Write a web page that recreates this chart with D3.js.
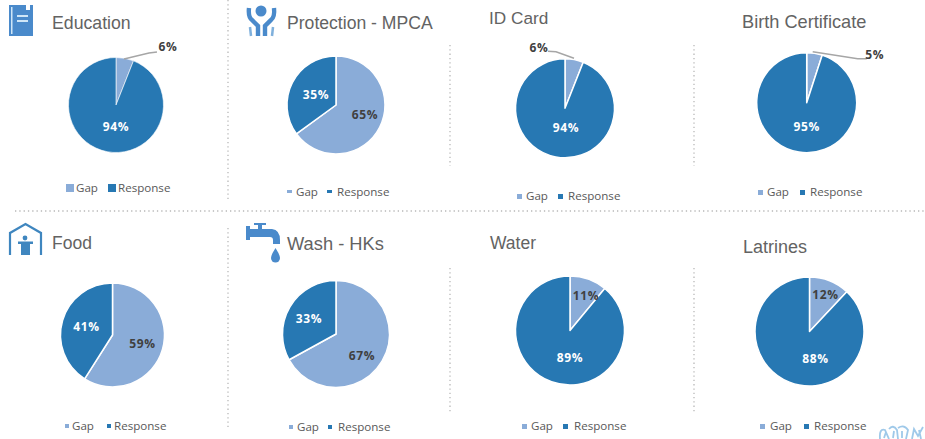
<!DOCTYPE html>
<html><head><meta charset="utf-8">
<script src="https://cdnjs.cloudflare.com/ajax/libs/d3/7.8.5/d3.min.js"></script>
<style>html,body{margin:0;padding:0;background:#fff}svg{display:block}</style>
</head><body><div id="c"></div>
<script>
const titles = ["Education","Protection - MPCA","ID Card","Birth Certificate","Food","Wash - HKs","Water","Latrines"];
const gapValues = [6,65,6,5,59,67,11,12];
const responseValues = [94,35,94,95,41,33,89,88];
const legendLabels = ["Gap","Response"];
const colors = ["#8aacd8","#2778b3"];

// layout only
const panels = [
 {cx:116,cy:105,r:47.5,sw:0.6,tx:52,ty:29,ts:17.7,lab:[[52,-58],[0,22]],lead:[[8,-46],[33,-52],[41,-53]],lg:[66,108,76,118,192,8,8]},
 {cx:336,cy:105,r:49,sw:1.5,tx:287,ty:29,ts:17.6,lab:[[29,10],[-20,-10]],lg:[287,327,296,337,196,5,3]},
 {cx:565,cy:108.3,r:49.5,sw:1.5,tx:489,ty:24,ts:17.2,lab:[[-26,-60],[1,20]],lead:[[9,-50],[-9,-56.5],[-17,-57]],lg:[517,558,526,568,200,5,5]},
 {cx:806.7,cy:102.7,r:50,sw:1.5,tx:742,ty:28,ts:18.2,lab:[[68,-48],[0,24]],lead:[[6,-51],[51,-44],[60,-44]],lg:[758,800,767,810,196,5,5]},
 {cx:112.5,cy:335,r:52,sw:1.5,tx:52,ty:249,ts:17.5,lab:[[30,9],[-26,-8]],lg:[65,107,72,114,430,4,4]},
 {cx:336,cy:334,r:53.5,sw:1.5,tx:287,ty:250,ts:18.3,lab:[[26,22],[-27,-15]],lg:[289,328,297,338,431,4,4]},
 {cx:570,cy:330.5,r:54.5,sw:1.5,tx:490,ty:249,ts:17.5,lab:[[16,-35],[0,27]],lg:[522,563,531,574,430,5,5]},
 {cx:809.5,cy:331.5,r:54.5,sw:1.5,tx:743,ty:253,ts:18,lab:[[16,-37],[6,27]],lg:[760,804,770,814,430,5,5]}
];
const dotted = [[228,0,228,202],[228,228,228,430],[15,211,925,211],[450,45,450,166],[694,45,694,166],[450,268,450,412],[694,268,694,412]];

const svg = d3.select("#c").append("svg").attr("width",925).attr("height",439);
const font = "'Liberation Sans',Arial,sans-serif";

svg.selectAll("line.d").data(dotted).join("line").attr("class","d")
 .attr("x1",d=>d[0]).attr("y1",d=>d[1]).attr("x2",d=>d[2]).attr("y2",d=>d[3])
 .attr("stroke","#b8b8b8").attr("stroke-width",1.3).attr("stroke-dasharray","1.3 3");

const pie = d3.pie().sort(null).value(d=>d);
titles.forEach((t,i)=>{
  const p = panels[i], vals=[gapValues[i],responseValues[i]];
  const g = svg.append("g").attr("transform",`translate(${p.cx},${p.cy})`);
  const arc = d3.arc().innerRadius(0).outerRadius(p.r);
  g.selectAll("path").data(pie(vals)).join("path").attr("d",arc)
    .attr("fill",(d,k)=>colors[k]).attr("stroke","#fff").attr("stroke-width",p.sw).attr("stroke-linejoin","round");
  if(p.lead) g.append("path").attr("d",d3.line()(p.lead)).attr("fill","none").attr("stroke","#a6a6a6").attr("stroke-width",1.5);
  g.selectAll("text").data(vals).join("text").text(d=>d+"%")
    .attr("x",(d,k)=>p.lab[k][0]).attr("y",(d,k)=>p.lab[k][1]+4)
    .attr("text-anchor","middle").attr("font-family","'Open Sans',sans-serif").attr("font-weight",700)
    .attr("font-size",12).attr("letter-spacing",0.6)
    .attr("fill",(d,k)=>k===1 ? "#fff" : "#404040");
  svg.append("text").text(t).attr("x",p.tx).attr("y",p.ty).attr("font-family",font)
    .attr("font-size",p.ts).attr("fill","#636363");
  const [s1,s2,t1,t2,by,w,h]=p.lg;
  [[s1,t1],[s2,t2]].forEach((a,k)=>{
    svg.append("rect").attr("x",a[0]).attr("y",by-(h>=8?8:6)).attr("width",w).attr("height",h).attr("fill",colors[k]);
    svg.append("text").text(legendLabels[k]).attr("x",a[1]).attr("y",by)
      .attr("font-family","'Open Sans',sans-serif").attr("font-size",11.6).attr("fill","#595959");
  });
});

// icons
const ic="#4a8acb";
const book=svg.append("g");
book.append("rect").attr("x",9).attr("y",5).attr("width",24).attr("height",31).attr("fill",ic);
book.append("rect").attr("x",11).attr("y",7).attr("width",1.5).attr("height",27).attr("fill","#cfe6f7");
book.append("rect").attr("x",17).attr("y",15).attr("width",11).attr("height",2).attr("fill","#cfe6f7");
book.append("rect").attr("x",17).attr("y",20).attr("width",11).attr("height",2).attr("fill","#cfe6f7");
book.append("rect").attr("x",26).attr("y",5).attr("width",4).attr("height",5).attr("fill","#fff");

const hands=svg.append("g").attr("fill","none").attr("stroke",ic).attr("stroke-width",4.4);
hands.append("circle").attr("cx",261).attr("cy",11).attr("r",5.5).attr("fill",ic).attr("stroke","none");
hands.append("path").attr("d","M249 8 Q248 17 252 20 L258 26 L258 36");
hands.append("path").attr("d","M274 8 Q275 17 271 20 L265 26 L265 36");
hands.append("path").attr("d","M250 27 L251 36").attr("stroke-width",2.5).attr("stroke","#7fb0dc");
hands.append("path").attr("d","M273 27 L272 36").attr("stroke-width",2.5).attr("stroke","#7fb0dc");

const house=svg.append("g");
house.append("path").attr("d","M10 255 L10 233 L25.500 224 L41 233 L41 255").attr("fill","none").attr("stroke","#3f86bf").attr("stroke-width",2.2);
house.append("circle").attr("cx",25).attr("cy",238).attr("r",2.4).attr("fill","#3f86bf");
house.append("path").attr("d","M18 241.500 H33 V244 H30 V255 H21 V244 H18 Z").attr("fill","#3f86bf");

const tap=svg.append("g").attr("fill",ic);
tap.append("path").attr("d","M246 226 H250 V229 H258 V225 H254 V223 H266 V225 H262 V229 H272 Q280 230 280 240 V244 H273 V240 Q273 237 270 237 H250 V240 H246 Z");
tap.append("path").attr("d","M275.500 248 Q280 255 280 258 A4.500 4.500 0 0 1 271 258 Q271 255 275.500 248 Z");

const wm=svg.append("g").attr("fill","none").attr("stroke","#8fc0e6").attr("stroke-width",1.8).attr("opacity",0.85);
wm.append("path").attr("d","M880 439 Q879 428 885 430 L889 439 M889 429 Q893 424 897 430 L898 439 M898 428 Q904 424 908 430 L906 439");
wm.append("path").attr("d","M884 438 L886 432 M893 438 L894 431 M902 438 L902 431");
wm.append("path").attr("d","M912 439 L914 429 L918 436 L923 427 M919 430 L921 439");
</script></body></html>
